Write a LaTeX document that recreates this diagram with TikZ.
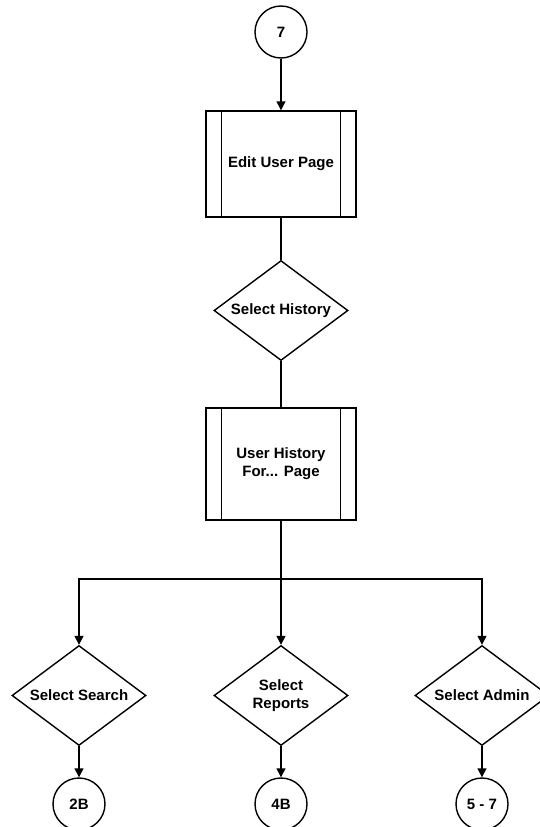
\documentclass[tikz,border=0pt]{standalone}
\usepackage{fontspec}
\setmainfont{Liberation Sans}
\usetikzlibrary{arrows.meta,shapes.geometric}
\begin{document}
\begin{tikzpicture}[x=1pt,y=-1pt,line width=1.4pt,
  lbl/.style={font=\bfseries\fontsize{15}{18}\selectfont,align=center},
  conn/.style={draw,circle,minimum size=52pt,inner sep=0pt,lbl},
  subproc/.style={draw,rectangle,minimum width=150pt,minimum height=106pt,inner sep=0pt,lbl},
  choice/.style={draw,diamond,shape aspect=1.34,minimum width=134pt,minimum height=100pt,inner sep=0pt,lbl},
  arr/.style={-{Triangle[length=9pt,width=9pt]}},
  bars/.style={line width=1.4pt}
]
\useasboundingbox (0,0) rectangle (540,827);
\clip (0,0) rectangle (540,827);

% off-page connector at the top
\node[conn] (c7) at (281,32) {7};

% predefined processes and decisions
\node[subproc] (edit) at (281,164) {Edit User Page};
\node[choice] (hist) at (281,310.5) {Select History};
\node[subproc,minimum height=112pt] (uhist) at (281,464) {User History\\For... Page};

\node[choice] (search) at (79,695.5) {Select Search};
\node[choice] (reports) at (281,695.5) {Select\\Reports};
\node[choice] (admin) at (482,695.5) {Select Admin};

% off-page connectors at the bottom
\node[conn] (c2b) at (79,804) {2B};
\node[conn] (c4b) at (281,804) {4B};
\node[conn] (c57) at (482,804) {5 - 7};

% side bars of the predefined-process boxes
\foreach \b in {edit,uhist}{
  \draw[bars] ([xshift=16pt]\b.north west) -- ([xshift=16pt]\b.south west);
  \draw[bars] ([xshift=-16pt]\b.north east) -- ([xshift=-16pt]\b.south east);
}

% connectors
\coordinate (split) at (281,579);
\draw[arr] (c7) -- (edit);
\draw (edit) -- (hist);
\draw (hist) -- (uhist);
\draw (uhist) -- (split);
\draw[arr] (split) -| (search.north);
\draw[arr] (split) -- (reports.north);
\draw[arr] (split) -| (admin.north);
\draw[arr] (search) -- (c2b);
\draw[arr] (reports) -- (c4b);
\draw[arr] (admin) -- (c57);
\end{tikzpicture}
\end{document}
